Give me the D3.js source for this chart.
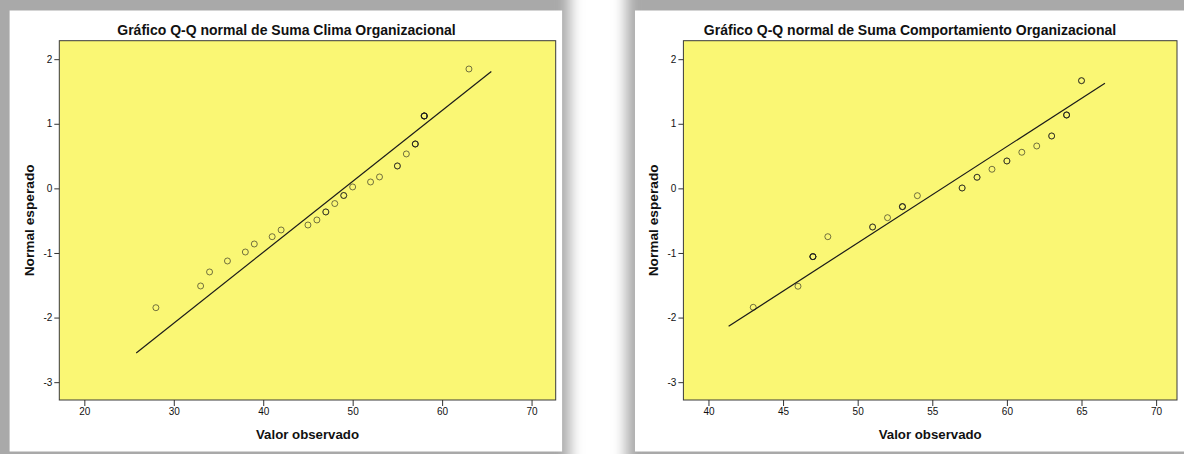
<!DOCTYPE html>
<html><head><meta charset="utf-8">
<script src="https://cdn.jsdelivr.net/npm/d3@7"></script>
<style>
html,body{margin:0;padding:0;background:#fff;}
svg{display:block;}
text{font-family:"Liberation Sans",Arial,sans-serif;fill:#111;}
</style></head>
<body>
<svg id="c" width="1184" height="454"></svg>
<script>
// ---- data ----
const titles = ["Gráfico Q-Q normal de Suma Clima Organizacional",
                "Gráfico Q-Q normal de Suma Comportamiento Organizacional"];
const xLabel = "Valor observado";
const yLabel = "Normal esperado";

const leftX = [28,33,34,36,38,39,41,42,45,46,47,48,49,50,52,53,55,56,57,58,63];
const leftY = [-1.847,-1.511,-1.294,-1.124,-0.985,-0.861,-0.748,-0.644,-0.567,-0.489,-0.365,-0.235,-0.110,0.022,0.099,0.177,0.347,0.533,0.687,1.121,1.848];
const leftCount = [1,1,1,1,1,1,1,1,1,1,2,1,2,1,1,1,2,1,3,5,1];
const leftLineX = [25.8, 65.5];
const leftLineY = [-2.548, 1.81];
const leftXTicks = [20,30,40,50,60,70];

const rightX = [43,46,47,48,51,52,53,54,57,58,59,60,61,62,63,64,65];
const rightY = [-1.841,-1.515,-1.057,-0.748,-0.598,-0.454,-0.283,-0.113,0.006,0.172,0.296,0.424,0.559,0.656,0.811,1.136,1.667];
const rightCount = [1,1,4,1,2,1,3,1,2,2,1,2,1,1,2,3,2];
const rightLineX = [41.35, 66.57];
const rightLineY = [-2.135, 1.627];
const rightXTicks = [40,45,50,55,60,65,70];

const yTicks = [2,1,0,-1,-2,-3];

// ---- layout ----
const panels = [
  {card:[9.6,10.5,552.5,441], titleX:286.5, plot:[59.3,40.7,555.7,400], xdom:[17.2,72.7],
   xs:leftX, ys:leftY, cnt:leftCount, lx:leftLineX, ly:leftLineY, ticks:leftXTicks, title:titles[0]},
  {card:[635,10.5,560,441], titleX:910, plot:[683.4,40.7,1177,400], xdom:[38.32,71.4],
   xs:rightX, ys:rightY, cnt:rightCount, lx:rightLineX, ly:rightLineY, ticks:rightXTicks, title:titles[1]}
];
const ydom = [-3.276, 2.286];

const svg = d3.select("#c");
const defs = svg.append("defs");
defs.append("filter").attr("id","sh").attr("x","-20%").attr("y","-20%").attr("width","140%").attr("height","140%")
  .append("feGaussianBlur").attr("stdDeviation",7);

// shadows
svg.append("rect").attr("x",-30).attr("y",-30).attr("width",600).attr("height",520)
  .attr("fill","#a9a9a9").attr("filter","url(#sh)");
svg.append("rect").attr("x",626).attr("y",-30).attr("width",600).attr("height",520)
  .attr("fill","#a9a9a9").attr("filter","url(#sh)");

panels.forEach(p => {
  const [cx,cy,cw,ch] = p.card;
  svg.append("rect").attr("x",cx).attr("y",cy).attr("width",cw).attr("height",ch).attr("fill","#fff");
  const [x0,y0,x1,y1] = p.plot;
  const x = d3.scaleLinear().domain(p.xdom).range([x0,x1]);
  const y = d3.scaleLinear().domain(ydom).range([y1,y0]);
  const g = svg.append("g");

  g.append("rect").attr("x",x0).attr("y",y0).attr("width",x1-x0).attr("height",y1-y0)
    .attr("fill","#faf774").attr("stroke","#3a3a3a").attr("stroke-width",1);

  // axes
  const fmt = d => String(d);
  const ax = g.append("g").attr("transform",`translate(0,${y1})`)
    .call(d3.axisBottom(x).tickValues(p.ticks).tickSize(6).tickPadding(2).tickFormat(fmt));
  const ay = g.append("g").attr("transform",`translate(${x0},0)`)
    .call(d3.axisLeft(y).tickValues(yTicks).tickSize(5).tickPadding(2).tickFormat(fmt));
  [ax,ay].forEach(a=>{
    a.select(".domain").remove();
    a.selectAll(".tick line").attr("stroke","#333");
    a.selectAll(".tick text").attr("font-size",10).attr("font-family","'Liberation Sans',Arial,sans-serif").attr("fill","#222");
  });

  // reference line
  const line = d3.line().x(d=>x(d[0])).y(d=>y(d[1]));
  g.append("path").datum(p.lx.map((v,i)=>[v,p.ly[i]])).attr("d",line)
    .attr("fill","none").attr("stroke","#1a1a1a").attr("stroke-width",1.2);

  // points (one circle per observation)
  const obs = [];
  p.xs.forEach((v,i)=>{ for(let k=0;k<p.cnt[i];k++) obs.push([v,p.ys[i]]); });
  g.selectAll("circle.pt").data(obs).join("circle").attr("class","pt")
    .attr("cx",d=>x(d[0])).attr("cy",d=>y(d[1])).attr("r",3)
    .attr("fill","none").attr("stroke","#1a1a1a").attr("stroke-opacity",0.6).attr("stroke-width",1);

  // titles
  svg.append("text").attr("x",p.titleX).attr("y",35).attr("text-anchor","middle")
    .attr("font-size",14).attr("font-weight","bold").text(p.title);
  svg.append("text").attr("x",(x0+x1)/2).attr("y",439).attr("text-anchor","middle")
    .attr("font-size",13).attr("font-weight","bold")
    .attr("textLength",103).attr("lengthAdjust","spacingAndGlyphs").text(xLabel);
  svg.append("text").attr("transform",`translate(${x0-25},${(y0+y1)/2}) rotate(-90)`)
    .attr("text-anchor","middle").attr("font-size",13).attr("font-weight","bold")
    .attr("textLength",112).attr("lengthAdjust","spacingAndGlyphs").text(yLabel);
});
</script>
</body></html>
